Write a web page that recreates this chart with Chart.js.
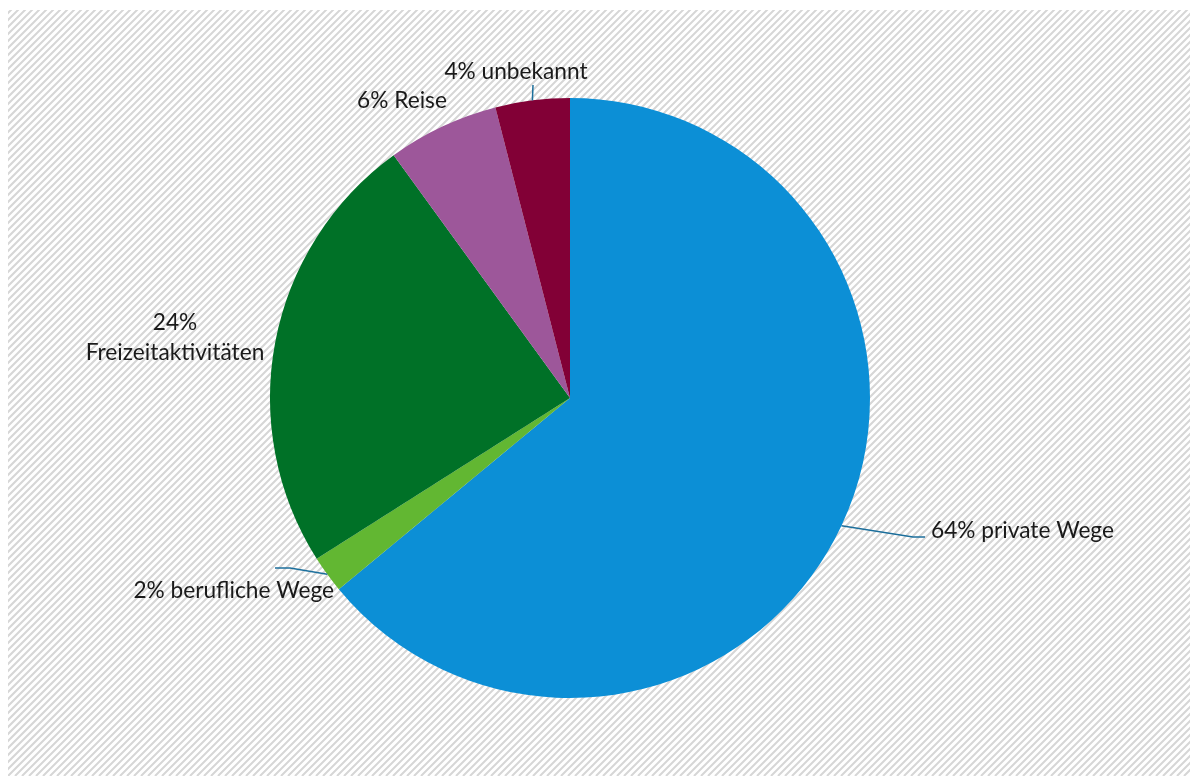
<!DOCTYPE html>
<html lang="de">
<head>
<meta charset="utf-8">
<title>Wegezwecke</title>
<script src="https://cdn.jsdelivr.net/npm/chart.js@4/dist/chart.umd.min.js"></script>
<style>
    html, body { margin: 0; padding: 0; background: #ffffff; }
    #wrap { width: 1190px; height: 776px; position: relative; }
</style>
</head>
<body>
<div id="wrap"><canvas id="chartZwecke"></canvas></div>
<script>
// Anteile der Wegezwecke (Prozent), im Uhrzeigersinn ab 12 Uhr
const kategorien = ['private Wege', 'berufliche Wege', 'Freizeitaktivitäten', 'Reise', 'unbekannt'];
const anteile    = [64, 2, 24, 6, 4];
const farben     = ['#0c8fd6', '#62b732', '#007127', '#9d579a', '#820036'];

// Position der Beschriftungen relativ zum Mittelpunkt; knick = Knickpunkt der Führungslinie
const beschriftung = [
    { dx: 361, dy: 133, align: 'left',   knick: [343, 139], ende: [355, 139] },
    { dx: -236, dy: 193, align: 'right', knick: [-280, 170], ende: [-295, 170] },
    { dx: -395, dy: -60, align: 'center', zweizeilig: true },
    { dx: -168, dy: -297, align: 'center' },
    { dx: -54, dy: -326, align: 'center', knick: [-37, -313], ende: [-37, -313] }
];

const hintergrund = {
    id: 'hintergrund',
    beforeDraw(chart) {
        const ctx = chart.ctx;
        const w = chart.width, h = chart.height;
        ctx.save();
        ctx.fillStyle = '#ffffff';
        ctx.fillRect(0, 0, w, h);
        ctx.beginPath();
        ctx.rect(8, 10, w - 8, h - 10);
        ctx.clip();
        ctx.strokeStyle = '#d6d6d6';
        ctx.lineWidth = 2;
        const abstand = 7;
        ctx.beginPath();
        for (let x = -h; x < w + h; x += abstand) {
            ctx.moveTo(x, h);
            ctx.lineTo(x + h, 0);
        }
        ctx.stroke();
        ctx.restore();
    }
};

const etiketten = {
    id: 'etiketten',
    afterDatasetsDraw(chart) {
        const ctx = chart.ctx;
        const meta = chart.getDatasetMeta(0);
        ctx.save();
        ctx.font = '22.7px Lato, "Noto Sans", sans-serif';
        ctx.fillStyle = '#1a1a1a';
        ctx.textBaseline = 'middle';
        meta.data.forEach((arc, i) => {
            const b = beschriftung[i];
            const cx = arc.x, cy = arc.y;
            const mitte = (arc.startAngle + arc.endAngle) / 2;
            const rx = cx + Math.cos(mitte) * arc.outerRadius;
            const ry = cy + Math.sin(mitte) * arc.outerRadius;

            if (b.knick) {
                ctx.strokeStyle = '#1c6f9c';
                ctx.lineWidth = 1.5;
                ctx.beginPath();
                ctx.moveTo(rx, ry);
                ctx.lineTo(cx + b.knick[0], cy + b.knick[1]);
                ctx.lineTo(cx + b.ende[0], cy + b.ende[1]);
                ctx.stroke();
            }

            ctx.textAlign = b.align;
            const tx = cx + b.dx, ty = cy + b.dy;
            if (b.zweizeilig) {
                ctx.fillText(anteile[i] + '%', tx, ty - 15);
                ctx.fillText(kategorien[i], tx, ty + 15);
            } else {
                ctx.fillText(anteile[i] + '% ' + kategorien[i], tx, ty);
            }
        });
        ctx.restore();
    }
};

new Chart(document.getElementById('chartZwecke').getContext('2d'), {
    type: 'pie',
    data: {
        labels: kategorien,
        datasets: [{
            data: anteile,
            backgroundColor: farben,
            borderWidth: 0
        }]
    },
    options: {
        responsive: true,
        maintainAspectRatio: false,
        animation: false,
        layout: { padding: { left: 270, right: 320, top: 98, bottom: 78 } },
        plugins: {
            legend: { display: false },
            tooltip: { enabled: false }
        }
    },
    plugins: [hintergrund, etiketten]
});
</script>
</body>
</html>
